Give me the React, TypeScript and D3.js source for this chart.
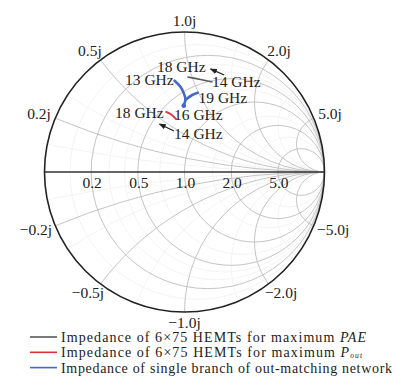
import * as d3 from "d3";

// Smith chart grid values (normalized impedance)
const resistanceMajor = [0.2, 0.5, 1, 2, 5];
const reactanceMajor = [0.2, 0.5, 1, 2, 5];
const resistanceMinor = [0.1, 0.3, 0.4, 0.7, 1.5, 3];
const reactanceMinor = [0.1, 0.3, 0.7, 1.5, 3];

const resistanceLabels = ["0.2", "0.5", "1.0", "2.0", "5.0"];
const reactanceLabelsPos = ["0.2j", "0.5j", "1.0j", "2.0j", "5.0j"];
const reactanceLabelsNeg = ["\u22120.2j", "\u22120.5j", "\u22121.0j", "\u22122.0j", "\u22125.0j"];

// reflection coefficient traces [Re Γ, Im Γ]
const paeTrace: [number, number][] = [
  [0.021, 0.679],
  [0.114, 0.661],
  [0.2, 0.643],
];
const poutTrace: [number, number][] = [
  [-0.136, 0.431],
  [-0.1, 0.414],
  [-0.057, 0.376],
];
const branchTraceA: [number, number][] = [
  [-0.071, 0.652],
  [-0.029, 0.609],
  [-0.005, 0.562],
  [0.007, 0.519],
  [0.0, 0.491],
  [-0.005, 0.474],
];
const branchTraceB: [number, number][] = [
  [0.01, 0.517],
  [0.055, 0.55],
  [0.095, 0.566],
];

const arrows: { from: [number, number]; to: [number, number] }[] = [
  { from: [0.283, 0.693], to: [0.186, 0.736] },
  { from: [-0.075, 0.293], to: [-0.179, 0.343] },
];

const freqLabels: { text: string; at: [number, number] }[] = [
  { text: "18 GHz", at: [-0.197, 0.714] },
  { text: "14 GHz", at: [0.196, 0.607] },
  { text: "13 GHz", at: [-0.425, 0.621] },
  { text: "19 GHz", at: [0.1, 0.496] },
  { text: "18 GHz", at: [-0.496, 0.386] },
  { text: "16 GHz", at: [-0.075, 0.371] },
  { text: "14 GHz", at: [-0.075, 0.236] },
];

const legendItems = [
  { color: "#5a5a5a", kind: "pae", width: 305 },
  { color: "#e0303c", kind: "pout", width: 301 },
  { color: "#4468cc", kind: "branch", width: 331 },
];

const W = 412;
const H = 388;
const cx = 184.5;
const cy = 172;
const R = 140;
const font = "'Liberation Serif', 'Times New Roman', serif";

export default function App() {
  const gx = d3.scaleLinear().domain([-1, 1]).range([cx - R, cx + R]);
  const gy = d3.scaleLinear().domain([-1, 1]).range([cy + R, cy - R]);
  const k = gx(1) - gx(0);

  const path = d3
    .line<[number, number]>()
    .curve(d3.curveCatmullRom)
    .x((d) => gx(d[0]))
    .y((d) => gy(d[1]));

  const boundary = (x: number): [number, number] => [
    (x * x - 1) / (x * x + 1),
    (2 * x) / (x * x + 1),
  ];

  const rCircle = (r: number, stroke: string, sw: number) => (
    <circle
      key={"r" + r + stroke}
      cx={gx(r / (1 + r))}
      cy={gy(0)}
      r={k / (1 + r)}
      fill="none"
      stroke={stroke}
      strokeWidth={sw}
    />
  );
  const xArc = (x: number, stroke: string, sw: number) => (
    <circle
      key={"x" + x + stroke}
      cx={gx(1)}
      cy={gy(1 / x)}
      r={k / Math.abs(x)}
      fill="none"
      stroke={stroke}
      strokeWidth={sw}
    />
  );

  const reactLabel = (x: number, text: string) => {
    const [re, im] = boundary(x);
    const th = Math.atan2(im, re);
    const w = text.length * 6.8;
    const px = gx(re) + Math.cos(th) * (w / 2 + 4);
    const py = gy(im) - Math.sin(th) * 11;
    return (
      <text key={text} x={px} y={py + 5} textAnchor="middle">
        {text}
      </text>
    );
  };

  return (
    <svg
      width={W}
      height={H}
      style={{ position: "absolute", left: 0, top: 0, background: "#fff" }}
      fontFamily={font}
    >
      <defs>
        <clipPath id="unit">
          <circle cx={gx(0)} cy={gy(0)} r={k} />
        </clipPath>
        <marker
          id="arrowhead"
          viewBox="0 0 10 10"
          refX="9"
          refY="5"
          markerWidth="7"
          markerHeight="7"
          orient="auto"
          markerUnits="userSpaceOnUse"
        >
          <path d="M0,1 L10,5 L0,9 Z" fill="#222" />
        </marker>
      </defs>

      <g clipPath="url(#unit)">
        {resistanceMinor.map((r) => rCircle(r, "#f0f0f0", 0.8))}
        {reactanceMinor.map((x) => xArc(x, "#f0f0f0", 0.8))}
        {reactanceMinor.map((x) => xArc(-x, "#f0f0f0", 0.8))}
        {resistanceMajor.map((r) => rCircle(r, "#bdbdbd", 0.9))}
        {reactanceMajor.map((x) => xArc(x, "#bdbdbd", 0.9))}
        {reactanceMajor.map((x) => xArc(-x, "#bdbdbd", 0.9))}
      </g>

      <line x1={gx(-1)} x2={gx(1)} y1={gy(0)} y2={gy(0)} stroke="#333" strokeWidth={1.4} />
      <circle cx={gx(0)} cy={gy(0)} r={k} fill="none" stroke="#222" strokeWidth={1.6} />

      <g fontSize={15.5} fill="#222">
        {resistanceMajor.map((r, i) => (
          <text key={r} x={gx((r - 1) / (r + 1)) + 1} y={gy(0) + 16} textAnchor="middle">
            {resistanceLabels[i]}
          </text>
        ))}
        {reactanceMajor.map((x, i) => reactLabel(x, reactanceLabelsPos[i]))}
        {reactanceMajor.map((x, i) => reactLabel(-x, reactanceLabelsNeg[i]))}
      </g>

      <path d={path(paeTrace)!} fill="none" stroke="#5a5a5a" strokeWidth={1.6} />
      <path d={path(poutTrace)!} fill="none" stroke="#e0303c" strokeWidth={1.8} />
      <path d={path(branchTraceA)!} fill="none" stroke="#4468cc" strokeWidth={2.6} strokeLinecap="round" />
      <path d={path(branchTraceB)!} fill="none" stroke="#4468cc" strokeWidth={2.6} strokeLinecap="round" />
      <circle
        cx={gx(branchTraceA[branchTraceA.length - 1][0])}
        cy={gy(branchTraceA[branchTraceA.length - 1][1])}
        r={2.4}
        fill="#4468cc"
      />

      {arrows.map((a, i) => (
        <line
          key={i}
          x1={gx(a.from[0])}
          y1={gy(a.from[1])}
          x2={gx(a.to[0])}
          y2={gy(a.to[1])}
          stroke="#222"
          strokeWidth={1.3}
          markerEnd="url(#arrowhead)"
        />
      ))}

      <g fontSize={15.5} fill="#222">
        {freqLabels.map((l, i) => (
          <text key={i} x={gx(l.at[0])} y={gy(l.at[1])}>
            {l.text}
          </text>
        ))}
      </g>

      <g fontSize={14} fill="#222">
        {legendItems.map((item, i) => {
          const y = 337 + i * 15.3;
          return (
            <g key={item.kind}>
              <line x1={30} x2={57} y1={y} y2={y} stroke={item.color} strokeWidth={1.6} />
              <text x={61} y={y + 5} textLength={item.width} lengthAdjust="spacing">
                {item.kind === "pae" && (
                  <>
                    Impedance of 6×75 HEMTs for maximum <tspan fontStyle="italic">PAE</tspan>
                  </>
                )}
                {item.kind === "pout" && (
                  <>
                    Impedance of 6×75 HEMTs for maximum <tspan fontStyle="italic">P</tspan>
                    <tspan fontStyle="italic" fontSize={7.5} dy={1}>
                      out
                    </tspan>
                  </>
                )}
                {item.kind === "branch" && <>Impedance of single branch of out-matching network</>}
              </text>
            </g>
          );
        })}
      </g>
    </svg>
  );
}
